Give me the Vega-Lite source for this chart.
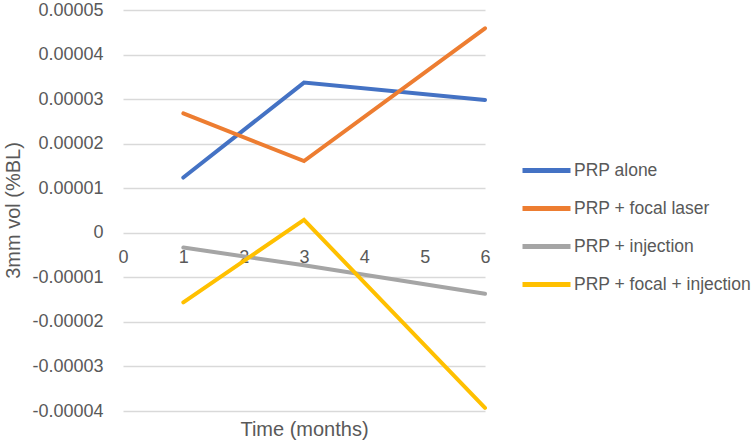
{
  "$schema": "https://vega.github.io/schema/vega-lite/v6.json",
  "autosize": {"type": "none"},
  "width": 362,
  "height": 401,
  "padding": {"left": 123, "top": 10, "right": 270, "bottom": 31},
  "background": "white",
  "config": {
    "view": {"stroke": null},
    "font": "Liberation Sans",
    "axis": {"labelFont": "Liberation Sans", "titleFont": "Liberation Sans", "labelColor": "#595959", "titleColor": "#595959", "labelFontSize": 18, "titleFontSize": 20, "titleFontWeight": "normal"},
    "legend": {"labelFont": "Liberation Sans", "labelColor": "#595959", "labelFontSize": 17.5, "labelLimit": 400}
  },
  "data": {
    "values": [
      {"series": "PRP alone", "month": 1, "value": 0.0000124},
      {"series": "PRP alone", "month": 3, "value": 0.0000337},
      {"series": "PRP alone", "month": 6, "value": 0.0000298},
      {"series": "PRP + focal laser", "month": 1, "value": 0.0000268},
      {"series": "PRP + focal laser", "month": 3, "value": 0.0000161},
      {"series": "PRP + focal laser", "month": 6, "value": 0.0000459},
      {"series": "PRP + injection", "month": 1, "value": -0.0000033},
      {"series": "PRP + injection", "month": 3, "value": -0.0000073},
      {"series": "PRP + injection", "month": 6, "value": -0.0000137},
      {"series": "PRP + focal + injection", "month": 1, "value": -0.0000156},
      {"series": "PRP + focal + injection", "month": 3, "value": 0.0000029},
      {"series": "PRP + focal + injection", "month": 6, "value": -0.0000393}
    ]
  },
  "mark": {"type": "line", "strokeWidth": 4, "strokeCap": "round"},
  "encoding": {
    "x": {
      "field": "month", "type": "quantitative",
      "scale": {"domain": [0, 6], "nice": false, "zero": false},
      "axis": {
        "values": [0, 1, 2, 3, 4, 5, 6], "format": "d", "grid": false, "domain": false, "ticks": false,
        "offset": -179, "labelPadding": 16, "title": "Time (months)",
        "titleBaseline": "alphabetic", "titleY": 203, "labelFlush": false
      }
    },
    "y": {
      "field": "value", "type": "quantitative",
      "scale": {"domain": [-0.00004, 0.00005], "nice": false, "zero": false},
      "axis": {
        "values": [-0.00004, -0.00003, -0.00002, -0.00001, 0, 0.00001, 0.00002, 0.00003, 0.00004, 0.00005],
        "labelExpr": "replace(format(datum.value, '.5~f'), '\u2212', '-')",
        "grid": true, "gridColor": "#d9d9d9", "gridWidth": 1.3, "domain": false, "ticks": false,
        "labelPadding": 20, "title": "3mm vol (%BL)", "titleX": -110, "titleY": 200, "titleAngle": 270, "titleBaseline": "middle", "titleAlign": "center"
      }
    },
    "color": {
      "field": "series", "type": "nominal",
      "scale": {
        "domain": ["PRP alone", "PRP + focal laser", "PRP + injection", "PRP + focal + injection"],
        "range": ["#4472C4", "#ED7D31", "#A5A5A5", "#FFC000"]
      },
      "legend": {
        "title": null, "orient": "none", "legendX": 397, "legendY": 134,
        "symbolType": "stroke", "symbolSize": 2304, "symbolStrokeWidth": 5,
        "rowPadding": 1, "labelOffset": 1
      }
    }
  }
}
